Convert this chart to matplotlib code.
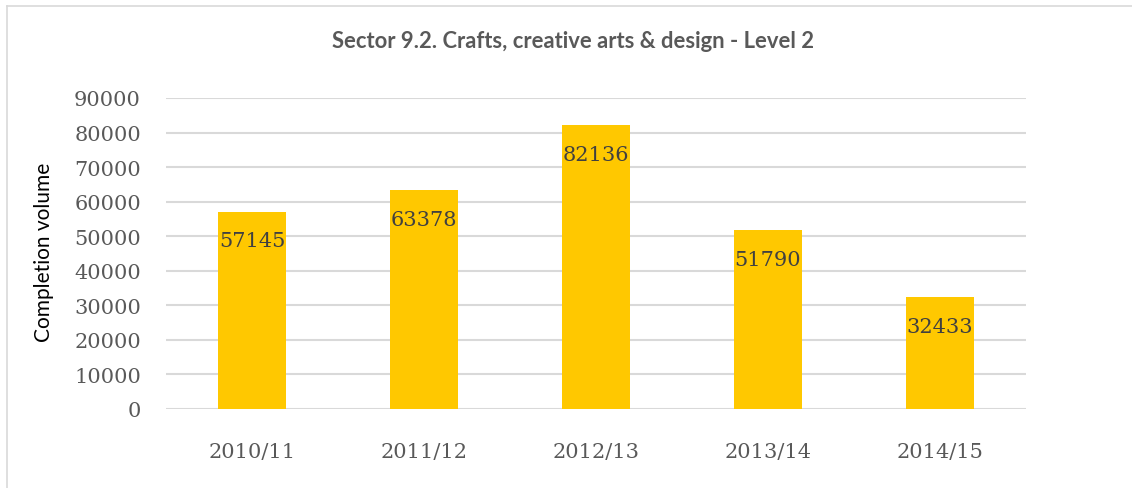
import matplotlib
matplotlib.use("Agg")
import matplotlib.pyplot as plt
from matplotlib.lines import Line2D

# data
years = ["2010/11", "2011/12", "2012/13", "2013/14", "2014/15"]
volumes = [57145, 63378, 82136, 51790, 32433]
yticks = [0, 10000, 20000, 30000, 40000, 50000, 60000, 70000, 80000, 90000]

W, H = 1132, 489
fig = plt.figure(figsize=(W / 100, H / 100), dpi=100)
ax = fig.add_axes([166 / W, 1 - 410 / H, (1026 - 166) / W, (410 - 99) / H])

x = range(len(years))
ax.bar(x, volumes, width=0.40, color="#FFC800", zorder=3)

ax.set_xlim(-0.5, len(years) - 0.5)
ax.set_ylim(0, 90000)
ax.set_yticks(yticks)
ax.set_yticklabels([str(v) for v in yticks])
ax.set_xticks(list(x))
ax.set_xticklabels(years)

ax.grid(axis="y", color="#D9D9D9", lw=1.5, zorder=0)
for s in ax.spines.values():
    s.set_visible(False)
ax.tick_params(length=0, colors="#595959", labelsize=15)
ax.tick_params(axis="x", pad=24)
ax.tick_params(axis="y", pad=18)
for t in ax.get_xticklabels() + ax.get_yticklabels():
    t.set_family("DejaVu Serif")

for xi, v in zip(x, volumes):
    ax.annotate(str(v), (xi, v), xytext=(0, -21), textcoords="offset points",
                ha="center", va="center", fontsize=15, family="DejaVu Serif",
                color="#404040", zorder=4)

fig.text(573 / W, 1 - 42 / H, "Sector 9.2. Crafts, creative arts & design - Level 2",
         ha="center", va="center", fontsize=15.8, fontweight="bold",
         family="Lato", color="#595959")
fig.text(44 / W, 1 - 252 / H, "Completion volume", rotation=90,
         ha="center", va="center", fontsize=15, family="Lato", color="black")

# chart frame (only left and top edges are inside the crop)
fig.add_artist(Line2D([6.5 / W, 6.5 / W], [0, 1 - 6.5 / H], transform=fig.transFigure,
                      color="#D9D9D9", lw=1.2))
fig.add_artist(Line2D([6.5 / W, 1], [1 - 6.5 / H, 1 - 6.5 / H], transform=fig.transFigure,
                      color="#D9D9D9", lw=1.2))

fig.savefig("out.png", dpi=100)
